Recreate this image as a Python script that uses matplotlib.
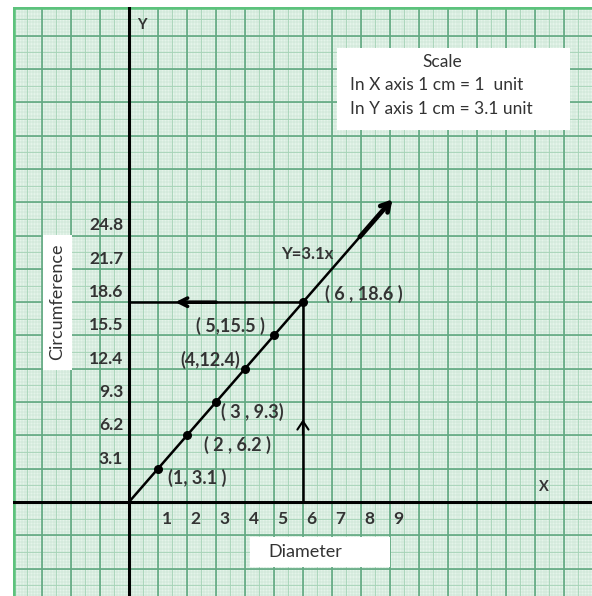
import numpy as np
import matplotlib.pyplot as plt
from matplotlib.patches import Rectangle

diameter = [1, 2, 3, 4, 5, 6]
circumference = [3.1, 6.2, 9.3, 12.4, 15.5, 18.6]
point_labels = ["(1, 3.1 )", "( 2 , 6.2 )", "( 3 , 9.3)", "(4,12.4)", "( 5,15.5 )", "( 6 , 18.6 )"]
# label offsets from each point, in data units
label_dx = [1.35, 1.75, 1.25, -1.2, -1.5, 2.1]
label_dy = [-0.85, -0.9, -0.9, 0.85, 0.9, 0.8]
x_ticks = [1, 2, 3, 4, 5, 6, 7, 8, 9]
y_ticks = [3.1, 6.2, 9.3, 12.4, 15.5, 18.6, 21.7, 24.8]
slope = 3.1
scale_lines = ["In X axis 1 cm = 1  unit", "In Y axis 1 cm = 3.1 unit"]

text_color = "#333333"
font = "Lato"

fig = plt.figure(figsize=(5.92, 5.96), dpi=100)
ax = fig.add_axes([13 / 592, 0, 579 / 592, 589 / 596])
xmin, xmax = -4.0, 15.97
ymin, ymax = -8.75, 46.08
ax.set_xlim(xmin, xmax)
ax.set_ylim(ymin, ymax)
ax.set_facecolor("#e5f4ea")
for s in ax.spines.values():
    s.set_visible(False)
ax.set_xticks([])
ax.set_yticks([])

# graph paper: fine, half and full-cm lines
for v in np.arange(-4, 16.01, 0.1):
    ax.axvline(v, color="#bfdfcb", lw=0.35, zorder=0)
for v in np.arange(-3, 15.01, 0.1) * slope:
    ax.axhline(v, color="#bfdfcb", lw=0.35, zorder=0)
for v in np.arange(-4, 16.01, 0.5):
    ax.axvline(v, color="#a5d3b6", lw=0.6, zorder=0)
for v in np.arange(-3, 15.01, 0.5) * slope:
    ax.axhline(v, color="#a5d3b6", lw=0.6, zorder=0)
for v in range(-4, 17):
    ax.axvline(v, color="#62a982", lw=1.2, zorder=1)
for v in np.arange(-3, 16) * slope:
    ax.axhline(v, color="#62a982", lw=1.2, zorder=1)

# green border along left and top edge
ax.axvline(xmin, color="#5cc27c", lw=4, zorder=2)
ax.axhline(ymax, color="#5cc27c", lw=4, zorder=2)

# axes
ax.axvline(0, color="black", lw=2.2, zorder=3)
ax.axhline(0, color="black", lw=2.2, zorder=3)
ax.text(0.45, 44.4, "Y", fontsize=10.5, color=text_color, ha="center", va="center", family=font, weight="bold")
ax.text(14.3, 1.4, "X", fontsize=10.5, color=text_color, ha="center", va="center", family=font, weight="bold")

for t in x_ticks:
    ax.text(t + 0.3, -1.6, str(t), fontsize=12.5, color=text_color, ha="center", va="center",
            family=font, weight="bold")
for t in y_ticks:
    ax.text(-0.2, t + 0.2, f"{t:.1f}", fontsize=12.5, color=text_color, ha="right", va="bottom",
            family=font, weight="bold")

# y = 3.1x line with a heavy arrow at the end
x_end, x_head = 7.9, 9.15
ax.plot([0, x_end], [0, slope * x_end], color="black", lw=1.8, zorder=4)
ax.annotate("", xy=(x_head, slope * x_head), xytext=(x_end, slope * x_end),
            arrowprops=dict(arrowstyle="->,head_length=0.6,head_width=0.35", lw=3.4, color="black"), zorder=4)
ax.scatter(diameter, circumference, s=30, color="black", zorder=5)

# reading x = 6 on the graph
px, py = diameter[-1], circumference[-1]
ax.plot([px, 0], [py, py], color="black", lw=1.8, zorder=4)
ax.annotate("", xy=(1.5, py), xytext=(3.1, py),
            arrowprops=dict(arrowstyle="->,head_length=0.6,head_width=0.3", lw=2.6, color="black"), zorder=4)
ax.plot([px, px], [0, py], color="black", lw=1.8, zorder=4)
ax.annotate("", xy=(px, 7.95), xytext=(px, 6.0),
            arrowprops=dict(arrowstyle="->,head_length=0.6,head_width=0.4", lw=1.5, color="black"), zorder=4)

for x, y, lab, dx, dy in zip(diameter, circumference, point_labels, label_dx, label_dy):
    ax.text(x + dx, y + dy, lab, fontsize=13, color=text_color, ha="center", va="center",
            family=font, weight="bold")
ax.text(6.15, 23.1, "Y=3.1x", fontsize=12, color=text_color, ha="center", va="center",
        family=font, weight="bold")

# white label boxes
ax.add_patch(Rectangle((4.17, -6.05), 4.83, 2.79, fc="white", ec="none", zorder=2))
ax.text(6.07, -4.65, "Diameter", fontsize=13, color=text_color, ha="center", va="center", family=font)

ax.add_patch(Rectangle((-2.97, 12.29), 1.0, 12.57, fc="white", ec="none", zorder=2))
ax.text(-2.47, 18.6, "Circumference", fontsize=13, color=text_color, ha="center", va="center",
        rotation=90, family=font)

ax.add_patch(Rectangle((7.17, 34.63), 8.04, 7.63, fc="white", ec="none", zorder=2))
ax.text(10.8, 40.96, "Scale", fontsize=12.5, color=text_color, ha="center", va="center", family=font)
for i, line in enumerate(scale_lines):
    ax.text(7.62, 38.82 - 2.23 * i, line, fontsize=12.5, color=text_color, ha="left", va="center", family=font)

fig.savefig("out.png", dpi=100, facecolor="white")
